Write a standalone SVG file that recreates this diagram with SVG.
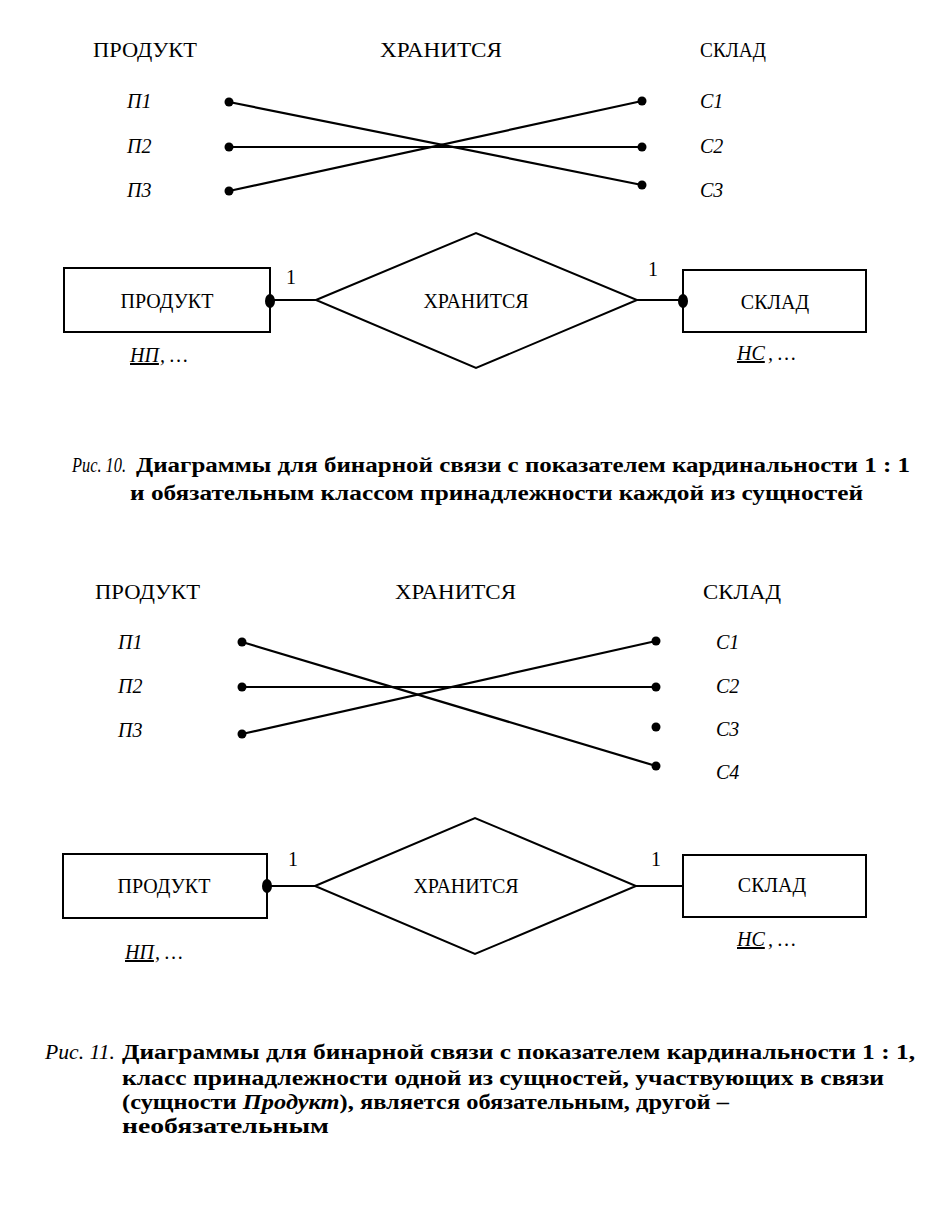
<svg xmlns="http://www.w3.org/2000/svg" width="933" height="1208" viewBox="0 0 933 1208">
<style>
text{font-family:"Liberation Serif","Times New Roman",serif;fill:#000}
.h{font-size:20px}
.i{font-size:20px;font-style:italic}
.b{font-size:20px;font-weight:bold}
.ln{stroke:#000;stroke-width:2.2;fill:none}
.box{stroke:#000;stroke-width:2;fill:#fff}
.dot{fill:#000}
</style>
<rect width="933" height="1208" fill="#fff"/>

<!-- Figure 10: instance diagram -->
<g id="fig10-instances">
<text class="h" x="93" y="57" textLength="104" lengthAdjust="spacingAndGlyphs">ПРОДУКТ</text>
<text class="h" x="380" y="57" textLength="122" lengthAdjust="spacingAndGlyphs">ХРАНИТСЯ</text>
<text class="h" x="700" y="57" textLength="66" lengthAdjust="spacingAndGlyphs">СКЛАД</text>
<text class="i" x="127" y="108">П1</text>
<text class="i" x="127" y="153">П2</text>
<text class="i" x="127" y="197">П3</text>
<text class="i" x="700" y="108">С1</text>
<text class="i" x="700" y="153">С2</text>
<text class="i" x="700" y="197">С3</text>
</g>
<g id="fig10-links">
<line class="ln" x1="229" y1="102" x2="642" y2="185"/>
<line class="ln" x1="229" y1="147" x2="642" y2="147"/>
<line class="ln" x1="229" y1="191" x2="642" y2="101"/>
<circle class="dot" cx="229" cy="102" r="4.5"/>
<circle class="dot" cx="229" cy="147" r="4.5"/>
<circle class="dot" cx="229" cy="191" r="4.5"/>
<circle class="dot" cx="642" cy="101" r="4.5"/>
<circle class="dot" cx="642" cy="147" r="4.5"/>
<circle class="dot" cx="642" cy="185" r="4.5"/>
</g>

<!-- Figure 10: ER diagram -->
<g id="fig10-connectors">
<line class="ln" x1="270" y1="300" x2="316" y2="300"/>
<line class="ln" x1="637" y1="300" x2="683" y2="300"/>
</g>
<g id="fig10-produkt">
<rect class="box" x="64" y="268" width="206" height="64"/>
<text class="h" x="167" y="308" text-anchor="middle">ПРОДУКТ</text>
<text class="i" x="130" y="362" text-decoration="underline">НП</text>
<text class="i" x="160" y="362">, …</text>
</g>
<g id="fig10-hranitsya">
<polygon class="box" points="316,300 476,233 637,300 476,368"/>
<text class="h" x="476" y="308" text-anchor="middle">ХРАНИТСЯ</text>
</g>
<g id="fig10-sklad">
<rect class="box" x="683" y="270" width="183" height="62"/>
<text class="h" x="775" y="309" text-anchor="middle">СКЛАД</text>
<text class="i" x="737" y="360" text-decoration="underline">НС</text>
<text class="i" x="768" y="360">, …</text>
</g>
<g id="fig10-marks">
<ellipse class="dot" cx="270" cy="301" rx="5" ry="7"/>
<ellipse class="dot" cx="683" cy="301" rx="5" ry="7"/>
<text class="h" x="286" y="284">1</text>
<text class="h" x="648" y="276">1</text>
</g>

<g id="caption10">
<text class="i" x="72" y="472" font-size="16" textLength="54" lengthAdjust="spacingAndGlyphs">Рис. 10.</text>
<text class="b" x="136" y="472" textLength="774" lengthAdjust="spacingAndGlyphs">Диаграммы для бинарной связи с показателем кардинальности 1 : 1</text>
<text class="b" x="130" y="500" textLength="733" lengthAdjust="spacingAndGlyphs">и обязательным классом принадлежности каждой из сущностей</text>
</g>

<!-- Figure 11: instance diagram -->
<g id="fig11-instances">
<text class="h" x="95" y="599" textLength="105" lengthAdjust="spacingAndGlyphs">ПРОДУКТ</text>
<text class="h" x="395" y="599" textLength="121" lengthAdjust="spacingAndGlyphs">ХРАНИТСЯ</text>
<text class="h" x="703" y="599" textLength="78" lengthAdjust="spacingAndGlyphs">СКЛАД</text>
<text class="i" x="118" y="649">П1</text>
<text class="i" x="118" y="693">П2</text>
<text class="i" x="118" y="737">П3</text>
<text class="i" x="716" y="649">С1</text>
<text class="i" x="716" y="693">С2</text>
<text class="i" x="716" y="736">С3</text>
<text class="i" x="716" y="779">С4</text>
</g>
<g id="fig11-links">
<line class="ln" x1="242" y1="642" x2="656" y2="766"/>
<line class="ln" x1="242" y1="687" x2="656" y2="687"/>
<line class="ln" x1="242" y1="734" x2="656" y2="641"/>
<circle class="dot" cx="242" cy="642" r="4.5"/>
<circle class="dot" cx="242" cy="687" r="4.5"/>
<circle class="dot" cx="242" cy="734" r="4.5"/>
<circle class="dot" cx="656" cy="641" r="4.5"/>
<circle class="dot" cx="656" cy="687" r="4.5"/>
<circle class="dot" cx="656" cy="727" r="4.5"/>
<circle class="dot" cx="656" cy="766" r="4.5"/>
</g>

<!-- Figure 11: ER diagram -->
<g id="fig11-connectors">
<line class="ln" x1="267" y1="886" x2="315" y2="886"/>
<line class="ln" x1="636" y1="886" x2="683" y2="886"/>
</g>
<g id="fig11-produkt">
<rect class="box" x="63" y="854" width="204" height="64"/>
<text class="h" x="164" y="893" text-anchor="middle">ПРОДУКТ</text>
<text class="i" x="125" y="959" text-decoration="underline">НП</text>
<text class="i" x="155" y="959">, …</text>
</g>
<g id="fig11-hranitsya">
<polygon class="box" points="315,886 475,818 636,886 475,954"/>
<text class="h" x="466" y="893" text-anchor="middle">ХРАНИТСЯ</text>
</g>
<g id="fig11-sklad">
<rect class="box" x="683" y="855" width="183" height="62"/>
<text class="h" x="772" y="892" text-anchor="middle">СКЛАД</text>
<text class="i" x="737" y="946" text-decoration="underline">НС</text>
<text class="i" x="768" y="946">, …</text>
</g>
<g id="fig11-marks">
<ellipse class="dot" cx="267" cy="886" rx="5" ry="7"/>
<text class="h" x="288" y="866">1</text>
<text class="h" x="651" y="866">1</text>
</g>

<g id="caption11">
<text class="i" x="45" y="1059" textLength="70" lengthAdjust="spacingAndGlyphs">Рис. 11.</text>
<text class="b" x="122" y="1059" textLength="793" lengthAdjust="spacingAndGlyphs">Диаграммы для бинарной связи с показателем кардинальности 1 : 1,</text>
<text class="b" x="122" y="1085" textLength="762" lengthAdjust="spacingAndGlyphs">класс принадлежности одной из сущностей, участвующих в связи</text>
<text class="b" x="122" y="1109" textLength="607" lengthAdjust="spacingAndGlyphs">(сущности <tspan font-style="italic">Продукт</tspan>), является обязательным, другой –</text>
<text class="b" x="122" y="1133" textLength="207" lengthAdjust="spacingAndGlyphs">необязательным</text>
</g>
</svg>
